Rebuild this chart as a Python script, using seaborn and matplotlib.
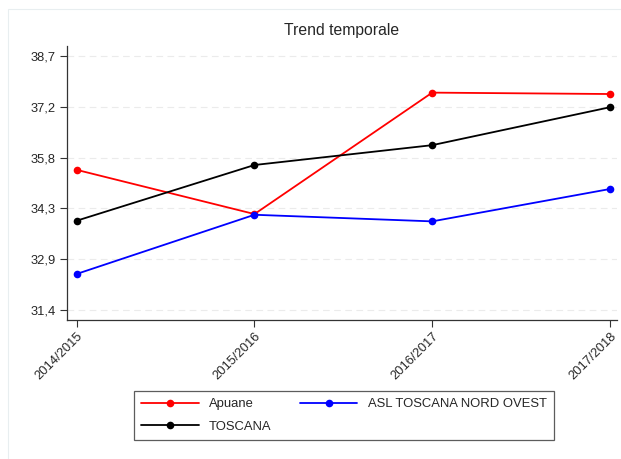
import numpy as np
import pandas as pd
import matplotlib
matplotlib.use("Agg")
import matplotlib.pyplot as plt
import seaborn as sns
from matplotlib.patches import Rectangle

# =========================
# DATA
# =========================

years = ["2014/2015", "2015/2016", "2016/2017", "2017/2018"]

apuane = [35.43, 34.16, 37.65, 37.61]
asl_nord_ovest = [32.44, 34.14, 33.95, 34.88]
toscana = [33.97, 35.57, 36.14, 37.23]

series_names = ["Apuane", "ASL TOSCANA NORD OVEST", "TOSCANA"]
colors = ["#ff0000", "#0000ff", "#000000"]

y_ticks = [31.4, 32.86, 34.32, 35.78, 37.24, 38.7]

df = pd.DataFrame({
    "anno": years * 3,
    "valore": apuane + asl_nord_ovest + toscana,
    "serie": [series_names[0]] * 4 + [series_names[1]] * 4 + [series_names[2]] * 4,
})

# =========================
# PLOT
# =========================

sns.set_style("white")
plt.rcParams["font.family"] = ["Liberation Sans", "DejaVu Sans"]

fig = plt.figure(figsize=(6.21, 4.59), dpi=100)
ax = fig.add_axes([67 / 621, 1 - 319.5 / 459, (617 - 67) / 621, (319.5 - 46) / 459])

# faint outer frame
fig.patches.append(Rectangle((8 / 621, -0.05), 1.1, 1 - 9 / 459 + 0.05,
                             transform=fig.transFigure, fill=False,
                             edgecolor="#e8eef0", linewidth=0.8))

sns.lineplot(data=df, x="anno", y="valore", hue="serie",
             palette=dict(zip(series_names, colors)),
             marker="o", markersize=5.5, markeredgewidth=0,
             linewidth=1.3, sort=False, ax=ax)

ax.set_xlim(-0.055, 3.04)
ax.set_ylim(31.13, 38.99)
ax.set_yticks(y_ticks)
ax.set_yticklabels([f"{v:.1f}".replace(".", ",") for v in y_ticks], fontsize=9.3)
ax.set_xticks(range(len(years)))
ax.set_xticklabels(years, rotation=45, ha="right", rotation_mode="anchor", fontsize=9.3)

ax.tick_params(axis="both", direction="out", length=5, width=0.8, color="#333333",
               bottom=True, left=True, pad=3)
ax.grid(axis="y", color="#ebebeb", linestyle=(0, (6, 4)), linewidth=0.8)
ax.set_axisbelow(True)

for side in ["top", "right"]:
    ax.spines[side].set_visible(False)
for side in ["left", "bottom"]:
    ax.spines[side].set_color("#333333")
    ax.spines[side].set_linewidth(0.9)

ax.set_xlabel("")
ax.set_ylabel("")
ax.set_title("Trend temporale", fontsize=11.3, pad=8)

# legend row-major: Apuane, ASL / TOSCANA
handles, labels = ax.get_legend_handles_labels()
order = [0, 2, 1]
ax.legend([handles[i] for i in order], [labels[i] for i in order],
          ncol=2, loc="upper left",
          bbox_to_anchor=(134 / 621, 1 - 441 / 459, (554 - 134) / 621, 50 / 459),
          bbox_transform=fig.transFigure, mode="expand",
          frameon=True, fancybox=False, edgecolor="#333333", fontsize=9.4,
          handlelength=4.4, columnspacing=1.5, labelspacing=0.8,
          borderpad=0.55, borderaxespad=0, title=None)
ax.get_legend().get_frame().set_linewidth(0.9)

fig.savefig("out.png", dpi=100)
